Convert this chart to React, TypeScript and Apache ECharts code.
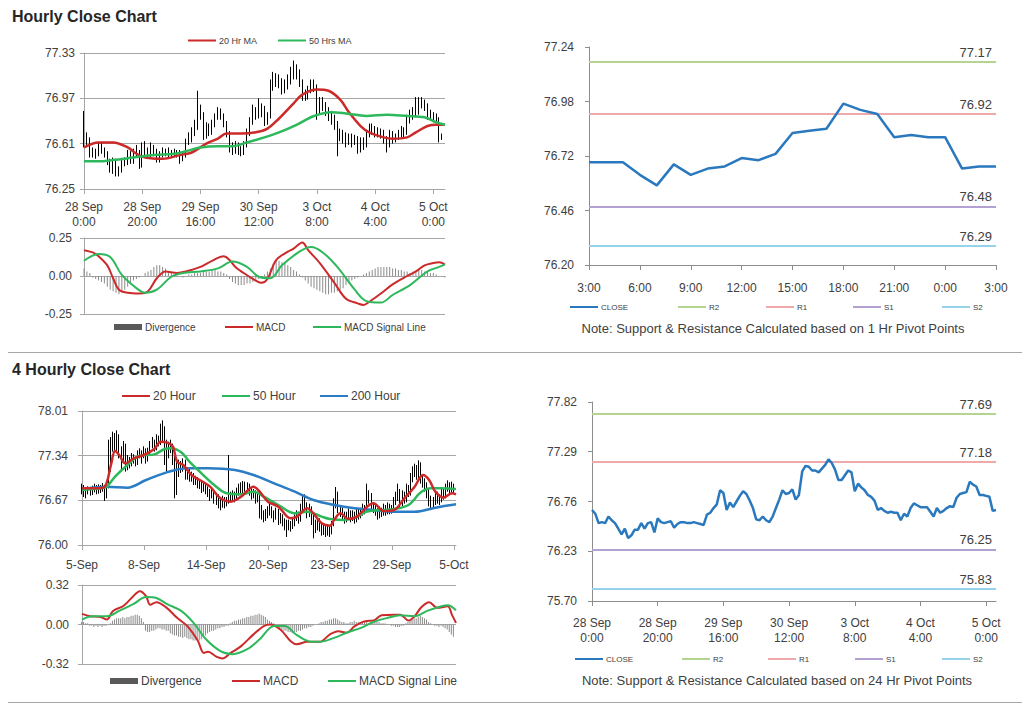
import React, { useEffect, useRef } from 'react';
import * as echarts from 'echarts';

// ---------------- Hourly data (28 Sep 0:00 -> 5 Oct 3:00) ----------------
const hourlyTicks = ['28 Sep\n0:00', '28 Sep\n20:00', '29 Sep\n16:00', '30 Sep\n12:00', '3 Oct\n8:00', '4 Oct\n4:00', '5 Oct\n0:00'];
const hourlyFirstOpen = 76.85;
const hourlyClose = [
  76.67, 76.63, 76.53, 76.54, 76.53, 76.60, 76.56, 76.53, 76.47, 76.41,
  76.47, 76.37, 76.40, 76.46, 76.46, 76.53, 76.47, 76.53, 76.54, 76.43,
  76.58, 76.54, 76.53, 76.54, 76.55, 76.48, 76.52, 76.54, 76.54, 76.53,
  76.53, 76.54, 76.53, 76.52, 76.51, 76.62, 76.64, 76.69, 76.73, 76.88,
  76.85, 76.67, 76.75, 76.70, 76.76, 76.82, 76.87, 76.84, 76.77, 76.69,
  76.57, 76.56, 76.60, 76.56, 76.54, 76.60, 76.69, 76.78, 76.88, 76.84,
  76.85, 76.89, 76.78, 76.83, 77.08, 77.14, 77.13, 77.09, 77.09, 77.07,
  77.11, 77.15, 77.21, 77.17, 77.10, 76.99, 76.99, 77.04, 77.09, 77.07,
  76.87, 76.95, 76.91, 76.88, 76.83, 76.81, 76.77, 76.67, 76.69, 76.66,
  76.64, 76.65, 76.64, 76.64, 76.56, 76.63, 76.60, 76.69, 76.74, 76.72,
  76.70, 76.70, 76.70, 76.65, 76.60, 76.69, 76.64, 76.66, 76.69, 76.71,
  76.70, 76.80, 76.84, 76.85, 76.86, 76.97, 76.94, 76.92, 76.83, 76.83,
  76.82, 76.81, 76.66, 76.67,
];
const hourlyHigh = [
  76.87, 76.70, 76.66, 76.58, 76.57, 76.62, 76.62, 76.58, 76.55, 76.49,
  76.50, 76.49, 76.43, 76.48, 76.50, 76.56, 76.55, 76.57, 76.60, 76.56,
  76.62, 76.63, 76.58, 76.62, 76.60, 76.57, 76.55, 76.58, 76.57, 76.58,
  76.56, 76.57, 76.56, 76.56, 76.55, 76.65, 76.70, 76.74, 76.80, 77.03,
  76.92, 76.86, 76.78, 76.77, 76.80, 76.85, 76.90, 76.89, 76.85, 76.79,
  76.71, 76.62, 76.63, 76.62, 76.59, 76.63, 76.73, 76.82, 76.92, 76.90,
  76.97, 76.93, 76.91, 76.86, 77.12, 77.18, 77.17, 77.16, 77.13, 77.12,
  77.16, 77.22, 77.27, 77.24, 77.20, 77.12, 77.04, 77.07, 77.12, 77.12,
  77.08, 76.98, 76.98, 76.94, 76.90, 76.87, 76.84, 76.79, 76.73, 76.72,
  76.70, 76.69, 76.69, 76.68, 76.67, 76.66, 76.66, 76.72, 76.77, 76.77,
  76.75, 76.74, 76.73, 76.72, 76.67, 76.72, 76.71, 76.69, 76.72, 76.75,
  76.74, 76.84, 76.88, 76.90, 76.98, 76.98, 76.98, 76.96, 76.93, 76.88,
  76.86, 76.85, 76.82, 76.69,
];
const hourlyLow = [
  76.58, 76.60, 76.50, 76.50, 76.49, 76.51, 76.53, 76.50, 76.44, 76.38,
  76.37, 76.35, 76.35, 76.38, 76.43, 76.44, 76.45, 76.45, 76.50, 76.41,
  76.42, 76.52, 76.49, 76.50, 76.51, 76.46, 76.46, 76.50, 76.51, 76.50,
  76.50, 76.51, 76.50, 76.45, 76.47, 76.50, 76.60, 76.62, 76.67, 76.72,
  76.80, 76.64, 76.65, 76.67, 76.68, 76.74, 76.80, 76.80, 76.74, 76.66,
  76.54, 76.52, 76.53, 76.52, 76.51, 76.52, 76.58, 76.67, 76.76, 76.80,
  76.81, 76.82, 76.75, 76.76, 76.81, 77.03, 77.06, 77.05, 77.00, 77.01,
  77.04, 77.08, 77.12, 77.12, 77.06, 76.95, 76.95, 76.96, 77.01, 77.02,
  76.80, 76.84, 76.87, 76.83, 76.79, 76.76, 76.72, 76.51, 76.63, 76.61,
  76.58, 76.60, 76.58, 76.60, 76.53, 76.54, 76.56, 76.58, 76.66, 76.68,
  76.66, 76.66, 76.65, 76.61, 76.54, 76.58, 76.61, 76.62, 76.64, 76.66,
  76.66, 76.68, 76.77, 76.80, 76.82, 76.84, 76.89, 76.87, 76.80, 76.79,
  76.78, 76.77, 76.62, 76.64,
];
const ma20Hourly = [
  [0, 76.58], [5, 76.62], [10, 76.62], [15, 76.58], [18, 76.53], [21, 76.50], [27, 76.49],
  [33, 76.52], [37, 76.54], [42, 76.61], [46, 76.65], [49, 76.69], [54, 76.69], [59, 76.70],
  [63, 76.73], [67, 76.81], [72, 76.93], [75, 77.00], [80, 77.04], [84, 77.03], [88, 76.96],
  [91, 76.86], [95, 76.75], [98, 76.70], [103, 76.66], [106, 76.65], [111, 76.66], [114, 76.70],
  [118, 76.75], [121, 76.76], [124, 76.76],
];
const ma50Hourly = [
  [0, 76.47], [5, 76.47], [10, 76.48], [17, 76.50], [24, 76.52], [31, 76.53], [35, 76.55],
  [40, 76.58], [46, 76.59], [51, 76.59], [56, 76.62], [62, 76.66], [67, 76.70], [73, 76.76],
  [79, 76.83], [85, 76.86], [90, 76.85], [97, 76.83], [104, 76.84], [111, 76.83], [117, 76.82],
  [121, 76.78], [124, 76.76],
];
const macdHourly = [
  [0, 0.17], [3, 0.155], [5, 0.13], [8, 0.07], [10, -0.015], [12, -0.09], [15, -0.11], [19, -0.115],
  [22, -0.10], [25, -0.015], [28, 0.03], [32, 0.02], [35, 0.03], [40, 0.06], [44, 0.10], [48, 0.13],
  [50, 0.105], [52, 0.06], [56, 0.005], [59, -0.03], [61, -0.045], [63, -0.02], [66, 0.105], [70, 0.16],
  [72, 0.18], [75, 0.22], [77, 0.17], [81, 0.085], [86, -0.045], [90, -0.15], [94, -0.18], [96, -0.19],
  [98, -0.17], [102, -0.115], [106, -0.055], [111, 0.0], [114, 0.03], [117, 0.07], [120, 0.085],
  [122, 0.09], [124, 0.075],
];
const signalHourly = [
  [0, 0.10], [5, 0.145], [9, 0.125], [13, 0.007], [18, -0.08], [21, -0.11], [25, -0.09], [30, -0.005],
  [34, 0.02], [40, 0.03], [46, 0.05], [51, 0.095], [56, 0.06], [60, -0.005], [64, -0.015], [68, 0.07],
  [74, 0.16], [78, 0.19], [82, 0.155], [87, 0.06], [93, -0.09], [97, -0.165], [102, -0.175],
  [106, -0.125], [112, -0.06], [118, 0.03], [122, 0.06], [124, 0.077],
];
const divergenceHourly = [
  0.05, 0.03, 0.02, -0.01, -0.02,
  -0.03, -0.04, -0.05, -0.07, -0.09, -0.10, -0.11, -0.12, -0.11, -0.09, -0.07,
  -0.05, -0.03, -0.02, -0.01, 0.00,
  0.02, 0.03, 0.04, 0.06, 0.07, 0.07, 0.06, 0.05, 0.03, 0.02,
  0.01, 0.00, 0.00, -0.01, 0.00, 0.01, 0.01, 0.02, 0.02,
  0.02, 0.03, 0.03, 0.03, 0.04, 0.04, 0.03, 0.03, 0.02, 0.01,
  -0.02, -0.04, -0.05, -0.06, -0.06, -0.06, -0.05, -0.05, -0.04, -0.03, -0.02, -0.01,
  0.01, 0.03, 0.05, 0.08, 0.10, 0.10, 0.09, 0.08, 0.07, 0.06, 0.04, 0.03,
  0.01, -0.01, -0.03,
  -0.05, -0.07, -0.08, -0.09, -0.10, -0.11, -0.12, -0.12, -0.11, -0.11, -0.10, -0.09, -0.08, -0.06, -0.05, -0.03,
  -0.02, -0.01, 0.00, 0.01,
  0.02, 0.03, 0.04, 0.05, 0.06, 0.06, 0.06, 0.06, 0.06, 0.05, 0.05, 0.04, 0.04, 0.03,
  0.03, 0.02, 0.03, 0.03, 0.04, 0.04, 0.03, 0.03, 0.02, 0.02, 0.01, 0.00, 0.00, -0.01,
];

// ---------------- Last 24 hours (1 Hr pivots) ----------------
const last24Ticks = ['3:00', '6:00', '9:00', '12:00', '15:00', '18:00', '21:00', '0:00', '3:00'];
const last24Close = [
  76.69, 76.69, 76.69, 76.63, 76.58, 76.68, 76.63, 76.66, 76.67, 76.71,
  76.70, 76.73, 76.83, 76.84, 76.85, 76.97, 76.94, 76.92, 76.81, 76.82,
  76.81, 76.81, 76.66, 76.67, 76.67,
];
const levelNames = ['R2', 'R1', 'S1', 'S2'];
const levelColors = ['#b5d58f', '#eeaaaa', '#b3a1d3', '#95d4e8'];
const levels1h = [77.17, 76.92, 76.48, 76.29];
const levels24h = [77.69, 77.18, 76.25, 75.83];

// ---------------- 4 hourly data (5 Sep -> 5 Oct) ----------------
const fourHourTicks = ['5-Sep', '8-Sep', '14-Sep', '20-Sep', '23-Sep', '29-Sep', '5-Oct'];
const fourHourFirstOpen = 76.80;
const fourHourClose = [
  76.85, 76.82, 76.80, 76.84, 76.78, 76.83, 76.86, 76.80, 76.85, 76.83,
  76.87, 76.72, 76.88, 77.20, 77.55, 77.62, 77.45, 77.65, 77.40, 77.30,
  77.50, 77.15, 77.25, 77.20, 77.30, 77.28, 77.22, 77.35, 77.38, 77.32,
  77.42, 77.28, 77.40, 77.50, 77.55, 77.45, 77.60, 77.52, 77.62, 77.75,
  77.55, 77.35, 77.45, 77.50, 77.40, 76.85, 77.10, 77.20, 77.15, 77.25,
  77.05, 77.10, 77.00, 77.05, 76.95, 76.98, 76.90, 76.92, 76.85, 76.88,
  76.82, 76.80, 76.75, 76.78, 76.70, 76.72, 76.65, 76.60, 76.68, 76.62,
  76.65, 76.70, 76.72, 76.75, 76.70, 76.80, 76.85, 76.82, 76.90, 76.86,
  76.88, 76.80, 76.75, 76.78, 76.70, 76.72, 76.55, 76.48, 76.40, 76.45,
  76.50, 76.55, 76.45, 76.42, 76.50, 76.38, 76.40, 76.35, 76.30, 76.32,
  76.30, 76.28, 76.33, 76.40, 76.45, 76.38, 76.55, 76.65, 76.60, 76.48,
  76.55, 76.40, 76.25, 76.30, 76.35, 76.28, 76.22, 76.25, 76.20, 76.25,
  76.22, 76.30, 76.60, 76.75, 76.55, 76.50, 76.45, 76.40, 76.42, 76.48,
  76.40, 76.45, 76.38, 76.48, 76.45, 76.50, 76.55, 76.52, 76.70, 76.75,
  76.60, 76.55, 76.50, 76.45, 76.52, 76.48, 76.55, 76.50, 76.58, 76.52,
  76.55, 76.65, 76.72, 76.80, 76.60, 76.75, 76.68, 76.85, 76.78, 77.00,
  77.10, 77.15, 77.05, 77.20, 77.00, 76.95, 76.90, 76.80, 76.70, 76.62,
  76.65, 76.75, 76.70, 76.68, 76.80, 76.75, 76.85, 76.90, 76.82, 76.88,
  76.85,
];
const fourHourHigh = [
  76.92, 76.90, 76.86, 76.88, 76.87, 76.89, 76.92, 76.90, 76.91, 76.90,
  76.93, 76.90, 76.93, 77.58, 77.62, 77.70, 77.68, 77.72, 77.66, 77.48,
  77.56, 77.52, 77.35, 77.32, 77.38, 77.36, 77.33, 77.42, 77.45, 77.42,
  77.48, 77.45, 77.46, 77.56, 77.62, 77.58, 77.66, 77.64, 77.82, 77.87,
  77.78, 77.58, 77.55, 77.58, 77.52, 77.42, 77.25, 77.28, 77.26, 77.30,
  77.28, 77.16, 77.14, 77.10, 77.08, 77.04, 77.02, 76.98, 76.96, 76.94,
  76.92, 76.88, 76.84, 76.84, 76.82, 76.78, 76.76, 76.70, 76.74, 76.72,
  76.72, 77.35, 76.80, 76.82, 76.80, 76.86, 76.92, 76.94, 76.96, 76.95,
  76.94, 76.92, 76.85, 76.84, 76.82, 76.80, 76.76, 76.60, 76.52, 76.54,
  76.58, 76.62, 76.58, 76.52, 76.56, 76.54, 76.48, 76.46, 76.40, 76.38,
  76.38, 76.36, 76.40, 76.46, 76.52, 76.50, 76.62, 76.74, 76.76, 76.64,
  76.62, 76.58, 76.45, 76.38, 76.42, 76.40, 76.32, 76.32, 76.30, 76.30,
  76.30, 76.36, 76.70, 76.87, 76.80, 76.60, 76.56, 76.50, 76.50, 76.55,
  76.52, 76.52, 76.50, 76.54, 76.54, 76.56, 76.62, 76.60, 76.92, 76.82,
  76.78, 76.64, 76.60, 76.55, 76.58, 76.56, 76.62, 76.60, 76.64, 76.62,
  76.60, 76.72, 76.80, 76.92, 76.84, 76.82, 76.80, 76.92, 76.90, 77.08,
  77.18, 77.22, 77.20, 77.27, 77.24, 77.06, 77.00, 76.94, 76.84, 76.74,
  76.72, 76.80, 76.80, 76.76, 76.86, 76.84, 76.92, 76.97, 76.94, 76.95,
  76.92,
];
const fourHourLow = [
  76.76, 76.72, 76.70, 76.76, 76.74, 76.75, 76.79, 76.76, 76.77, 76.78,
  76.80, 76.66, 76.70, 76.85, 77.10, 77.40, 77.38, 77.40, 77.30, 77.10,
  77.25, 77.10, 77.12, 77.15, 77.18, 77.22, 77.18, 77.20, 77.30, 77.22,
  77.30, 77.22, 77.25, 77.36, 77.45, 77.40, 77.42, 77.48, 77.50, 77.55,
  77.20, 77.10, 77.30, 77.38, 77.20, 76.70, 76.75, 77.02, 77.08, 77.10,
  76.98, 76.98, 76.95, 76.95, 76.90, 76.90, 76.85, 76.84, 76.78, 76.80,
  76.76, 76.72, 76.66, 76.70, 76.62, 76.60, 76.55, 76.52, 76.56, 76.55,
  76.58, 76.62, 76.64, 76.66, 76.64, 76.66, 76.74, 76.76, 76.78, 76.80,
  76.80, 76.74, 76.68, 76.70, 76.62, 76.64, 76.40, 76.38, 76.34, 76.36,
  76.40, 76.44, 76.40, 76.34, 76.38, 76.30, 76.32, 76.28, 76.22, 76.12,
  76.22, 76.20, 76.24, 76.28, 76.36, 76.32, 76.35, 76.50, 76.52, 76.40,
  76.42, 76.30, 76.10, 76.18, 76.22, 76.20, 76.14, 76.15, 76.12, 76.14,
  76.12, 76.16, 76.28, 76.55, 76.48, 76.42, 76.38, 76.32, 76.34, 76.38,
  76.34, 76.36, 76.32, 76.34, 76.38, 76.40, 76.44, 76.46, 76.48, 76.62,
  76.52, 76.48, 76.44, 76.38, 76.40, 76.42, 76.44, 76.44, 76.46, 76.46,
  76.47, 76.50, 76.60, 76.66, 76.54, 76.56, 76.62, 76.64, 76.72, 76.74,
  76.94, 77.02, 76.98, 77.00, 76.92, 76.86, 76.80, 76.70, 76.58, 76.54,
  76.56, 76.60, 76.62, 76.60, 76.64, 76.68, 76.70, 76.80, 76.76, 76.78,
  76.78,
];
const ma20Four = [
  [0, 76.85], [7, 76.85], [11, 76.875], [14, 77.20], [16, 77.41], [18, 77.35], [21, 77.225],
  [25, 77.30], [30, 77.35], [35, 77.44], [38, 77.55], [41, 77.54], [44, 77.475], [46, 77.25],
  [49, 77.20], [53, 77.05], [57, 76.975], [62, 76.875], [67, 76.70], [72, 76.65], [77, 76.725],
  [83, 76.875], [86, 76.80], [90, 76.65], [95, 76.575], [101, 76.40], [104, 76.425], [109, 76.55],
  [112, 76.475], [116, 76.325], [120, 76.29], [122, 76.375], [125, 76.475], [129, 76.39],
  [133, 76.425], [138, 76.575], [141, 76.625], [146, 76.51], [151, 76.525], [156, 76.70],
  [161, 76.875], [165, 77.05], [168, 76.975], [171, 76.80], [175, 76.71], [179, 76.775], [181, 76.76],
];
const ma50Four = [
  [0, 76.825], [9, 76.85], [12, 76.875], [16, 77.025], [22, 77.20], [28, 77.34], [35, 77.36],
  [40, 77.44], [43, 77.45], [48, 77.39], [52, 77.25], [57, 77.10], [64, 76.90], [70, 76.775],
  [77, 76.76], [83, 76.80], [88, 76.725], [95, 76.60], [103, 76.475], [109, 76.50], [116, 76.425],
  [120, 76.39], [127, 76.375], [132, 76.41], [138, 76.50], [145, 76.525], [151, 76.54], [158, 76.60],
  [164, 76.79], [169, 76.85], [174, 76.85], [181, 76.84],
];
const ma200Four = [
  [0, 76.84], [12, 76.875], [22, 76.86], [31, 76.975], [41, 77.09], [51, 77.15], [61, 77.15],
  [74, 77.125], [83, 77.05], [93, 76.925], [103, 76.80], [112, 76.675], [122, 76.60], [132, 76.55],
  [141, 76.525], [151, 76.50], [161, 76.50], [171, 76.56], [181, 76.61],
];
const macdFour = [
  [0, 0.086], [4, 0.067], [9, 0.06], [12, 0.04], [15, 0.11], [20, 0.15], [24, 0.215], [28, 0.27],
  [31, 0.23], [33, 0.16], [36, 0.18], [41, 0.135], [46, 0.054], [51, -0.013], [56, -0.13], [59, -0.23],
  [61, -0.22], [65, -0.26], [68, -0.275], [72, -0.23], [77, -0.175], [83, -0.08], [88, -0.013],
  [91, 0.0], [96, -0.04], [101, -0.135], [104, -0.16], [109, -0.14], [115, -0.14], [120, -0.08],
  [124, -0.054], [128, -0.067], [132, -0.013], [137, 0.027], [141, 0.032], [145, 0.075], [151, 0.08],
  [154, 0.08], [158, 0.032], [161, 0.067], [164, 0.135], [168, 0.18], [172, 0.135], [177, 0.148],
  [179, 0.08], [181, 0.013],
];
const signalFour = [
  [0, 0.04], [5, 0.067], [12, 0.067], [18, 0.11], [25, 0.167], [31, 0.223], [36, 0.215], [41, 0.167],
  [48, 0.11], [54, 0.013], [60, -0.12], [67, -0.215], [73, -0.24], [80, -0.20], [86, -0.12],
  [93, -0.013], [98, -0.013], [104, -0.086], [111, -0.14], [115, -0.14], [122, -0.108], [128, -0.067],
  [135, -0.027], [141, 0.02], [148, 0.054], [154, 0.075], [161, 0.067], [167, 0.11], [174, 0.148],
  [177, 0.156], [181, 0.115],
];
const divergenceFour = [
  0.02, 0.02, 0.01, 0.01,
  -0.01, -0.01, -0.02, -0.01, -0.02, -0.01, -0.02, -0.01, -0.01, 0.00, 0.01,
  0.03, 0.04, 0.05, 0.05, 0.05, 0.06, 0.05, 0.06, 0.06, 0.07, 0.07, 0.08, 0.08, 0.07, 0.05, 0.02,
  -0.05, -0.06, -0.06, -0.05, -0.05, -0.04, -0.03, -0.03, -0.04, -0.04, -0.05, -0.05, -0.07,
  -0.08, -0.09, -0.09, -0.10, -0.10, -0.11, -0.10, -0.11, -0.12, -0.12, -0.13, -0.13, -0.12,
  -0.13, -0.12, -0.11, -0.09, -0.07, -0.06, -0.05, -0.05, -0.04, -0.03, -0.03, -0.02, -0.02, -0.01, -0.01,
  0.01, 0.02, 0.03, 0.03, 0.04, 0.04, 0.05, 0.05, 0.06, 0.06, 0.07, 0.07, 0.08, 0.08, 0.09, 0.08, 0.07, 0.06, 0.04, 0.03, 0.02, 0.01,
  -0.01, -0.02, -0.03, -0.04, -0.05, -0.05, -0.06, -0.06, -0.07, -0.06, -0.06, -0.05, -0.05, -0.04, -0.03, -0.03, -0.02, -0.02, -0.01,
  0.00, 0.00, 0.01,
  0.02, 0.02, 0.03, 0.03, 0.04, 0.04, 0.05, 0.05, 0.04, 0.03, 0.02, 0.02, 0.01,
  0.01, 0.02, 0.02, 0.03, 0.02, 0.02, 0.01, 0.02, 0.02, 0.02, 0.01, 0.01,
  0.02, 0.02, 0.02, 0.02, 0.01, 0.01, 0.01, 0.00, 0.00, -0.01, -0.01, -0.02, -0.02, -0.02, -0.01, -0.01, 0.01,
  0.02, 0.03, 0.04, 0.05, 0.05, 0.06, 0.07, 0.06, 0.05, 0.04, 0.02, 0.01, 0.00,
  -0.01, -0.01, -0.02, -0.01, -0.02, -0.03, -0.04, -0.06, -0.08, -0.10,
];

// axis tick values
const hourlyPriceTicks = [76.25, 76.61, 76.97, 77.33];
const last24PriceTicks = [76.20, 76.46, 76.72, 76.98, 77.24];
const fourHourPriceTicks = [76.00, 76.67, 77.34, 78.01];
const hourlyClosePriceTicks = [75.70, 76.23, 76.76, 77.29, 77.82];

// ---------------- styling ----------------
const FONT = "'Liberation Sans', Arial, sans-serif";
const TXT = '#404040';
const GRID_GRAY = '#a6a6a6';
const RED = '#cc2a2a';
const GREEN = '#2db85c';
const BLUE200 = '#2a7cc4';
const CLOSE_BLUE = '#2a78bd';

const cats = (n: number) => Array.from({ length: n }, (_, i) => String(i));
const toOHLC = (close: number[], high: number[], low: number[], firstOpen: number) =>
  close.map((c, i) => [i === 0 ? firstOpen : close[i - 1], c, low[i], high[i]]);

function valueY(grid: number, min: number, max: number, ticks: number[], margin: number, split: boolean) {
  return {
    type: 'value', gridIndex: grid, min, max, scale: true,
    axisLine: { show: true, lineStyle: { color: split ? GRID_GRAY : '#8c8c8c', width: 1 } },
    axisTick: { show: true, customValues: ticks, length: 4, lineStyle: { color: split ? GRID_GRAY : '#8c8c8c' } },
    axisLabel: { customValues: ticks, formatter: (v: number) => v.toFixed(2), color: TXT, fontSize: 12, margin, fontFamily: FONT },
    splitLine: { show: split, lineStyle: { color: GRID_GRAY, width: 1 } },
  };
}
function macdY(grid: number, lim: number, margin: number) {
  return {
    type: 'value', gridIndex: grid, min: -lim, max: lim, interval: lim,
    axisLine: { show: true, lineStyle: { color: GRID_GRAY } },
    axisTick: { show: true, length: 4, lineStyle: { color: GRID_GRAY } },
    axisLabel: { formatter: (v: number) => v.toFixed(2), color: TXT, fontSize: 12, margin, fontFamily: FONT },
    splitLine: { show: true, lineStyle: { color: GRID_GRAY } },
  };
}
function catX(grid: number, n: number, every: number, labels: string[] | null, margin: number, color: string) {
  return {
    type: 'category', gridIndex: grid, data: cats(n), boundaryGap: false,
    axisLine: { show: !!labels, onZero: false, lineStyle: { color } },
    axisTick: { show: !!labels, interval: every - 1, length: 5, lineStyle: { color } },
    axisLabel: {
      show: !!labels, interval: every - 1, margin, color: TXT, fontSize: 12, lineHeight: 15, fontFamily: FONT,
      formatter: (_v: string, i: number) => (labels ? labels[i / every] ?? '' : ''),
    },
    splitLine: { show: false },
  };
}
const hiddenX = (grid: number, max: number) => ({ type: 'value', gridIndex: grid, min: 0, max, show: false });

function smoothLine(name: string, data: number[][], xi: number, yi: number, color: string, width: number) {
  return { name, type: 'line', xAxisIndex: xi, yAxisIndex: yi, data, smooth: 0.35, showSymbol: false, symbol: 'none', color, lineStyle: { color, width }, z: 4 };
}
function candles(data: number[][], xi: number, yi: number) {
  return {
    type: 'candlestick', xAxisIndex: xi, yAxisIndex: yi, data, barWidth: 1,
    itemStyle: { color: '#000', color0: '#000', borderColor: '#000', borderColor0: '#000', borderWidth: 1 },
    z: 2,
  };
}
function divBars(data: number[], xi: number, yi: number) {
  return { name: 'Divergence', type: 'bar', xAxisIndex: xi, yAxisIndex: yi, data, barWidth: 1, color: '#8a8a8a', itemStyle: { color: '#8a8a8a' }, z: 2 };
}
function levelSeries(levels: number[], xi: number, yi: number) {
  return levelNames.map((name, k) => ({
    name, type: 'line', xAxisIndex: xi, yAxisIndex: yi, data: [], color: levelColors[k],
    markLine: {
      silent: true, symbol: 'none', animation: false,
      data: [{ yAxis: levels[k] }],
      lineStyle: { color: levelColors[k], width: 2, type: 'solid' },
      label: { show: true, position: 'insideEndTop', formatter: levels[k].toFixed(2), color: TXT, fontSize: 13, fontFamily: FONT, distance: [4, 3] },
      emphasis: { disabled: true },
    },
  }));
}
function legendItem(name: string, left: number, cy: number, size: number, opts: any = {}) {
  return {
    data: [{ name, icon: 'rect', ...(opts.itemStyle ? { itemStyle: opts.itemStyle } : {}) }],
    left, top: cy - Math.round(size * 0.6), padding: 0,
    itemWidth: opts.w ?? 28, itemHeight: opts.h ?? 2, itemGap: 0, selectedMode: false,
    textStyle: { fontSize: size, color: TXT, fontFamily: FONT, padding: [0, 0, 0, -2] },
  };
}

function buildOption() {
  const N1 = 125; // hourly panel categories
  const N4 = 182; // 4-hourly categories
  return {
    animation: false,
    backgroundColor: '#ffffff',
    textStyle: { fontFamily: FONT },
    grid: [
      { left: 84, top: 53, width: 361, height: 136, containLabel: false, outerBoundsMode: 'none' },
      { left: 84, top: 238, width: 361, height: 76, containLabel: false, outerBoundsMode: 'none' },
      { left: 589, top: 47, width: 407, height: 218, containLabel: false, outerBoundsMode: 'none' },
      { left: 82, top: 411, width: 374, height: 134, containLabel: false, outerBoundsMode: 'none' },
      { left: 82, top: 585, width: 374, height: 79, containLabel: false, outerBoundsMode: 'none' },
      { left: 592, top: 402, width: 404, height: 199, containLabel: false, outerBoundsMode: 'none' },
    ],
    xAxis: [
      catX(0, N1, 20, hourlyTicks, 10, GRID_GRAY), // 0
      hiddenX(0, N1 - 1), // 1
      catX(1, N1, 20, null, 8, GRID_GRAY), // 2
      hiddenX(1, N1 - 1), // 3
      catX(2, last24Close.length, 3, last24Ticks, 15, '#8c8c8c'), // 4
      catX(3, N4, 30, fourHourTicks, 12, GRID_GRAY), // 5
      hiddenX(3, N4 - 1), // 6
      catX(4, N4, 30, null, 8, GRID_GRAY), // 7
      hiddenX(4, N4 - 1), // 8
      catX(5, hourlyClose.length, 20, hourlyTicks, 14, '#8c8c8c'), // 9
    ],
    yAxis: [
      valueY(0, 76.25, 77.33, hourlyPriceTicks, 9, true),
      macdY(1, 0.25, 12),
      valueY(2, 76.20, 77.24, last24PriceTicks, 15, false),
      valueY(3, 76.00, 78.01, fourHourPriceTicks, 14, true),
      macdY(4, 0.32, 13),
      valueY(5, 75.70, 77.82, hourlyClosePriceTicks, 15, false),
    ],
    legend: [
      legendItem('20 Hr MA', 188, 41, 9),
      legendItem('50 Hrs MA', 278, 41, 9),
      legendItem('Divergence', 114, 328, 10, { h: 6, itemStyle: { color: '#595959' } }),
      legendItem('MACD', 225, 328, 10),
      legendItem('MACD Signal Line', 313, 328, 10),
      legendItem('CLOSE', 570, 308, 8),
      legendItem('R2', 678, 308, 8),
      legendItem('R1', 766, 308, 8),
      legendItem('S1', 853, 308, 8),
      legendItem('S2', 942, 308, 8),
      legendItem('20 Hour', 122, 397, 12),
      legendItem('50 Hour', 222, 397, 12),
      legendItem('200 Hour', 320, 397, 12),
      legendItem('Divergence ', 110, 682, 12, { h: 6, itemStyle: { color: '#595959' } }),
      legendItem('MACD ', 232, 682, 12),
      legendItem('MACD Signal Line ', 328, 682, 12),
      legendItem('CLOSE', 575, 660, 8),
      legendItem('R2', 682, 660, 8),
      legendItem('R1', 768, 660, 8),
      legendItem('S1', 855, 660, 8),
      legendItem('S2', 942, 660, 8),
    ],
    series: [
      // hourly price panel
      candles(toOHLC(hourlyClose, hourlyHigh, hourlyLow, hourlyFirstOpen), 0, 0),
      smoothLine('20 Hr MA', ma20Hourly, 1, 0, RED, 2.5),
      smoothLine('50 Hrs MA', ma50Hourly, 1, 0, GREEN, 2.5),
      // hourly MACD
      divBars(divergenceHourly, 2, 1),
      smoothLine('MACD', macdHourly, 3, 1, RED, 2),
      smoothLine('MACD Signal Line', signalHourly, 3, 1, GREEN, 2),
      // last 24h close + 1h pivots
      ...levelSeries(levels1h, 4, 2),
      { name: 'CLOSE', type: 'line', xAxisIndex: 4, yAxisIndex: 2, data: last24Close, showSymbol: false, symbol: 'none', color: CLOSE_BLUE, lineStyle: { color: CLOSE_BLUE, width: 2.5 }, z: 5 },
      // 4-hourly price
      candles(toOHLC(fourHourClose, fourHourHigh, fourHourLow, fourHourFirstOpen), 5, 3),
      smoothLine('200 Hour', ma200Four, 6, 3, BLUE200, 2.5),
      smoothLine('50 Hour', ma50Four, 6, 3, GREEN, 2.5),
      smoothLine('20 Hour', ma20Four, 6, 3, RED, 2.5),
      // 4-hourly MACD
      divBars(divergenceFour, 7, 4),
      { ...divBars([], 7, 4), name: 'Divergence ' },
      smoothLine('MACD ', macdFour, 8, 4, RED, 2),
      smoothLine('MACD Signal Line ', signalFour, 8, 4, GREEN, 2),
      // hourly close + 24h pivots
      ...levelSeries(levels24h, 9, 5),
      { name: 'CLOSE', type: 'line', xAxisIndex: 9, yAxisIndex: 5, data: hourlyClose, showSymbol: false, symbol: 'none', color: CLOSE_BLUE, lineStyle: { color: CLOSE_BLUE, width: 2.5 }, z: 5 },
    ],
    graphic: [
      { type: 'text', x: 12, y: 8, style: { text: 'Hourly Close Chart', font: `bold 16px ${FONT}`, fill: '#262626' } },
      { type: 'text', x: 12, y: 361, style: { text: '4 Hourly Close Chart', font: `bold 16px ${FONT}`, fill: '#262626' } },
      { type: 'text', x: 773, y: 328, style: { text: 'Note: Support & Resistance Calculated based on 1 Hr Pivot Points', font: `13px ${FONT}`, fill: TXT, textAlign: 'center', textVerticalAlign: 'middle' } },
      { type: 'text', x: 777, y: 680, style: { text: 'Note: Support & Resistance Calculated based on 24 Hr Pivot Points', font: `13px ${FONT}`, fill: TXT, textAlign: 'center', textVerticalAlign: 'middle' } },
      { type: 'line', shape: { x1: 8, y1: 352.5, x2: 1022, y2: 352.5 }, style: { stroke: '#a6a6a6', lineWidth: 1 } },
      { type: 'line', shape: { x1: 8, y1: 702.5, x2: 1022, y2: 702.5 }, style: { stroke: '#a6a6a6', lineWidth: 1 } },
    ],
  };
}

export default function App() {
  const ref = useRef<HTMLDivElement>(null);
  useEffect(() => {
    if (!ref.current) return;
    const chart = echarts.init(ref.current, null, { renderer: 'svg' });
    chart.setOption(buildOption() as any);
    return () => chart.dispose();
  }, []);
  return (
    <div
      ref={ref}
      style={{ position: 'absolute', left: 0, top: 0, width: 1024, height: 706, background: '#ffffff' }}
    />
  );
}
